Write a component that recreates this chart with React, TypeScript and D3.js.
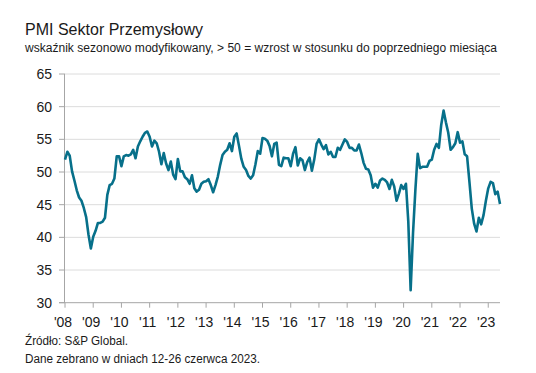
import React from "react";
import * as d3 from "d3";

// PMI values, monthly, Jan..Dec per year
const pmi2008 = [51.9, 53.1, 52.5, 50.1, 48.7, 47.2, 46.1, 45.6, 44.5, 43.1, 40.4, 38.3];
const pmi2009 = [40.1, 41.0, 42.2, 42.2, 42.4, 43.0, 46.5, 48.0, 48.2, 49.0, 52.4, 52.4];
const pmi2010 = [50.9, 52.4, 52.6, 52.5, 52.7, 53.4, 52.1, 53.9, 54.7, 55.4, 56.0, 56.2];
const pmi2011 = [55.4, 53.9, 54.8, 54.4, 53.1, 51.2, 52.9, 51.3, 50.3, 51.6, 49.6, 48.9];
const pmi2012 = [52.0, 50.1, 50.1, 49.2, 48.9, 48.2, 49.5, 47.5, 47.0, 47.3, 48.2, 48.5];
const pmi2013 = [48.6, 48.9, 48.0, 46.9, 48.0, 49.3, 51.1, 52.6, 53.1, 53.4, 54.4, 53.2];
const pmi2014 = [55.4, 55.9, 54.0, 52.0, 50.8, 50.3, 49.4, 49.0, 49.5, 51.2, 53.2, 52.8];
const pmi2015 = [55.2, 55.1, 54.8, 54.0, 52.4, 54.3, 54.5, 51.1, 50.9, 52.2, 52.1, 52.1];
const pmi2016 = [50.9, 52.8, 53.8, 51.0, 52.1, 51.8, 50.3, 51.5, 52.2, 50.2, 51.9, 54.3];
const pmi2017 = [55.0, 54.2, 53.5, 54.1, 52.7, 53.1, 52.3, 52.3, 53.7, 53.4, 54.2, 55.0];
const pmi2018 = [54.6, 53.7, 53.7, 53.3, 53.3, 54.2, 52.9, 51.4, 50.5, 50.4, 49.5, 47.6];
const pmi2019 = [48.2, 47.6, 48.7, 49.0, 48.8, 48.4, 47.4, 48.8, 47.8, 45.6, 46.7, 48.0];
const pmi2020 = [47.4, 48.2, 42.4, 31.9, 40.6, 47.2, 52.8, 50.6, 50.8, 50.8, 50.8, 51.7];
const pmi2021 = [51.9, 53.4, 54.3, 53.7, 57.2, 59.4, 57.6, 56.0, 53.4, 53.8, 54.4, 56.1];
const pmi2022 = [54.5, 54.7, 52.7, 52.4, 48.5, 44.4, 42.1, 40.9, 43.0, 42.0, 43.4, 45.6];
const pmi2023 = [47.5, 48.5, 48.3, 46.6, 47.0, 45.1];

const values = [
  ...pmi2008, ...pmi2009, ...pmi2010, ...pmi2011, ...pmi2012, ...pmi2013,
  ...pmi2014, ...pmi2015, ...pmi2016, ...pmi2017, ...pmi2018, ...pmi2019,
  ...pmi2020, ...pmi2021, ...pmi2022, ...pmi2023,
];

const yearLabels = ["'08", "'09", "'10", "'11", "'12", "'13", "'14", "'15", "'16", "'17", "'18", "'19", "'20", "'21", "'22", "'23"];
const yTicks = [30, 35, 40, 45, 50, 55, 60, 65];

const title = "PMI Sektor Przemysłowy";
const subtitle = "wskaźnik sezonowo modyfikowany, > 50 = wzrost w stosunku do poprzedniego miesiąca";
const source = "Źródło: S&P Global.";
const note = "Dane zebrano w dniach 12-26 czerwca 2023.";

const W = 536;
const H = 373;
const font = "'Liberation Sans', Arial, sans-serif";

export default function App() {
  const x = d3.scaleLinear().domain([0, values.length - 1]).range([65, 500]);
  const y = d3.scaleLinear().domain([30, 65]).range([302.7, 74]);

  const line = d3
    .line<number>()
    .x((d, i) => x(i))
    .y((d) => y(d))
    .curve(d3.curveLinear);

  return (
    <svg
      width={W}
      height={H}
      style={{ position: "absolute", left: 0, top: 0, background: "#fff" }}
    >
      <text x={25} y={35} fontFamily={font} fontSize={17} fill="#1a1a1a" textLength={178} lengthAdjust="spacingAndGlyphs">
        {title}
      </text>
      <text x={25} y={51.5} fontFamily={font} fontSize={12} fill="#1a1a1a" textLength={472} lengthAdjust="spacingAndGlyphs">
        {subtitle}
      </text>

      {/* gridlines */}
      {yTicks.filter((t) => t > 30).map((t) => (
        <line key={t} x1={65} x2={500} y1={y(t)} y2={y(t)} stroke="#dcdcdc" strokeWidth={1} />
      ))}

      {/* left axis */}
      <line x1={64.5} x2={64.5} y1={y(65)} y2={y(30)} stroke="#a6a6a6" strokeWidth={1} />
      {yTicks.map((t) => (
        <g key={t}>
          <line x1={59} x2={65} y1={y(t)} y2={y(t)} stroke="#a6a6a6" strokeWidth={1} />
          <text x={52} y={y(t)} dy="0.36em" textAnchor="end" fontFamily={font} fontSize={14} fill="#1a1a1a">
            {t}
          </text>
        </g>
      ))}

      {/* bottom axis */}
      <line x1={59} x2={500} y1={y(30)} y2={y(30)} stroke="#a6a6a6" strokeWidth={1} />
      {yearLabels.map((lab, k) => {
        const xx = x(k * 12);
        return (
          <g key={lab}>
            <line x1={xx} x2={xx} y1={y(30)} y2={y(30) + 5} stroke="#a6a6a6" strokeWidth={1} />
            <text x={xx - 2} y={327} textAnchor="middle" fontFamily={font} fontSize={14} fill="#1a1a1a">
              {lab}
            </text>
          </g>
        );
      })}

      <path d={line(values) ?? ""} fill="none" stroke="#07708a" strokeWidth={2.6} strokeLinejoin="round" />

      <text x={25} y={345} fontFamily={font} fontSize={12} fill="#1a1a1a" textLength={103} lengthAdjust="spacingAndGlyphs">
        {source}
      </text>
      <text x={25} y={363} fontFamily={font} fontSize={12} fill="#1a1a1a" textLength={235} lengthAdjust="spacingAndGlyphs">
        {note}
      </text>
    </svg>
  );
}
